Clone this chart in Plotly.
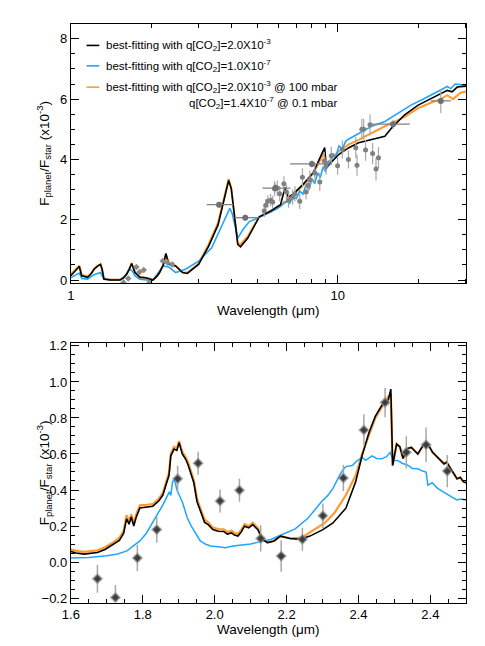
import plotly.graph_objects as go

# ---------------- top panel: models (wavelength in micron, flux x1e-3) ----------------
black_top_wl = [1.00, 1.04, 1.076, 1.098, 1.155, 1.19, 1.222, 1.26, 1.292, 1.31, 1.33, 1.406,
                1.53, 1.58, 1.62, 1.66, 1.69, 1.738, 1.814, 1.92, 2.03, 2.10, 2.15, 2.22, 2.27,
                2.33, 2.40, 2.47, 2.62, 2.73, 3.01, 3.28, 3.56, 3.77, 3.90, 3.99, 4.10, 4.22,
                4.32, 4.60, 5.08, 5.6, 6.1, 6.28, 6.35, 6.53, 6.81, 7.44, 8.1, 8.69, 8.93, 9.04,
                9.3, 10.1, 11.0, 11.96, 13.4, 15.0, 15.9, 17.8, 20.0, 22.3, 24.3, 25.7, 26.8,
                28.0, 30.3]
black_top_fl = [0.14, 0.3, 0.45, 0.14, 0.09, 0.2, 0.36, 0.46, 0.52, 0.35, 0.03, 0.0,
                0.0, 0.08, 0.2, 0.38, 0.55, 0.25, 0.09, 0.07, 0.0, 0.12, 0.25, 0.5, 0.88,
                0.52, 0.5, 0.47, 0.25, 0.22, 0.52, 1.12, 1.83, 2.81, 3.3, 3.03, 2.05, 1.18,
                1.1, 1.39, 2.1, 2.29, 2.5, 2.95, 3.08, 2.75, 2.86, 3.19, 3.57, 4.17, 4.39, 3.7,
                3.84, 4.17, 4.39, 4.55, 4.66, 4.77, 5.04, 5.48, 5.8, 6.02, 6.19, 6.29, 6.24,
                6.4, 6.43]

blue_top_wl = [1.00, 1.04, 1.076, 1.10, 1.155, 1.222, 1.292, 1.33, 1.406, 1.53, 1.62, 1.66,
               1.70, 1.74, 1.814, 1.92, 2.03, 2.15, 2.21, 2.33, 2.47, 2.69, 3.01, 3.37, 3.67,
               3.94, 4.02, 4.22, 4.41, 4.66, 5.0, 5.3, 5.6, 5.9, 6.2, 6.45, 6.6, 6.8, 7.0,
               7.2, 7.4, 7.6, 7.8, 8.0, 8.2, 8.4, 8.6, 8.8, 9.0, 9.2, 9.4, 9.6, 9.8, 10.1,
               10.4, 10.7, 11.0, 11.5, 12.0, 12.5, 13.4, 15.0, 16.8, 18.8, 21.1, 23.6, 25.7,
               26.5, 27.5, 28.8, 30.3]
blue_top_fl = [0.08, 0.15, 0.23, 0.05, 0.03, 0.18, 0.25, 0.03, 0.0, 0.0, 0.2, 0.36,
               0.3, 0.14, 0.03, 0.0, 0.0, 0.3, 0.47, 0.43, 0.25, 0.36, 0.63, 1.07, 1.77,
               2.38, 2.21, 1.39, 1.67, 1.94, 2.05, 2.15, 2.26, 2.36, 2.5, 2.62, 2.55, 2.78, 2.7,
               2.95, 2.85, 3.15, 3.0, 3.35, 3.2, 3.55, 3.4, 3.75, 3.6, 3.95, 3.85, 4.2, 4.05, 4.45,
               4.35, 4.6, 4.68, 4.78, 4.88, 4.95, 5.1, 5.26, 5.53, 5.8, 6.02, 6.24, 6.42,
               6.35, 6.5, 6.48, 6.45]

orange_top_wl = [1.00, 1.04, 1.076, 1.098, 1.155, 1.19, 1.222, 1.26, 1.292, 1.31, 1.33, 1.406,
                 1.53, 1.58, 1.62, 1.66, 1.69, 1.738, 1.814, 1.92, 2.03, 2.10, 2.15, 2.22, 2.27,
                 2.33, 2.40, 2.47, 2.62, 2.73, 3.01, 3.28, 3.56, 3.77, 3.90, 3.99, 4.10, 4.22,
                 4.32, 4.60, 5.08, 5.6, 6.1, 6.3, 6.53, 6.81, 7.44, 8.1, 8.69, 8.93, 9.04, 9.3,
                 10.1, 11.0, 12.0, 13.4, 15.0, 17.8, 20.0, 22.3, 24.3, 25.7, 27.0, 28.8, 30.3]
orange_top_fl = [0.2, 0.35, 0.48, 0.18, 0.12, 0.22, 0.38, 0.48, 0.53, 0.36, 0.05, 0.02,
                 0.02, 0.1, 0.22, 0.4, 0.56, 0.27, 0.11, 0.08, 0.02, 0.13, 0.26, 0.5, 0.85,
                 0.53, 0.5, 0.47, 0.26, 0.24, 0.55, 1.18, 1.9, 2.88, 3.35, 3.05, 2.05, 1.22,
                 1.18, 1.45, 2.1, 2.25, 2.45, 2.6, 2.6, 2.82, 3.15, 3.55, 4.05, 4.25, 3.85, 3.95,
                 4.28, 4.5, 4.66, 4.88, 5.1, 5.41, 5.7, 5.88, 6.0, 6.13, 6.0, 6.21, 6.25]

# ---------------- top panel: observations ----------------
ground_wl = [1.47, 1.52, 1.575, 1.64, 1.76, 1.81, 1.876, 1.97, 2.21, 2.30, 2.40]
ground_fl = [-0.19, -0.30, -0.08, 0.05, 0.43, 0.27, 0.33, -0.08, 0.63, 0.58, 0.52]

phot_wl = [3.59, 4.5, 5.84, 8.0, 16.1, 24.3]
phot_fl = [2.5, 2.07, 3.05, 3.85, 5.17, 5.94]
phot_wl_lo = [3.23, 4.1, 5.22, 6.63, 13.4, 22.3]
phot_wl_hi = [4.05, 5.08, 6.64, 9.5, 18.6, 26.5]
phot_err = [0.1, 0.1, 0.15, 0.12, 0.15, 0.4]

irs_wl = [5.3, 5.37, 5.47, 5.6, 5.7, 5.79, 5.93, 6.06, 6.28, 6.42, 6.54, 6.77, 6.91, 7.2,
          7.37, 7.6, 7.74, 7.86, 8.2, 8.56, 8.9, 9.04, 9.45, 9.98, 10.4, 10.96, 11.67, 11.8,
          12.3, 12.5, 12.7, 13.2, 13.5, 13.9, 14.2]
irs_fl = [2.29, 2.48, 2.61, 2.65, 2.59, 3.03, 3.05, 2.86, 3.19, 2.92, 2.65, 2.75, 2.86, 2.61,
          3.41, 2.92, 3.14, 3.33, 3.55, 3.25, 3.95, 3.79, 4.12, 3.79, 4.33, 4.0, 4.39, 3.81,
          5.0, 5.0, 4.31, 5.15, 4.2, 3.68, 4.06]
irs_err = [0.2, 0.2, 0.2, 0.2, 0.2, 0.25, 0.25, 0.25, 0.25, 0.25, 0.25, 0.25, 0.25, 0.25,
           0.3, 0.25, 0.25, 0.3, 0.3, 0.3, 0.3, 0.3, 0.3, 0.3, 0.3, 0.3, 0.35, 0.35,
           0.35, 0.35, 0.35, 0.35, 0.35, 0.38, 0.35]

# ---------------- bottom panel: models ----------------
black_bot_wl = [1.600, 1.615, 1.637, 1.655, 1.674, 1.695, 1.719, 1.735, 1.747, 1.755, 1.762,
                1.768, 1.775, 1.782, 1.792, 1.810, 1.828, 1.845, 1.856, 1.865, 1.873, 1.878,
                1.887, 1.895, 1.901, 1.910, 1.919, 1.926, 1.933, 1.942, 1.951, 1.958, 1.965,
                1.972, 1.982, 1.995, 2.010, 2.025, 2.035, 2.047, 2.055, 2.065, 2.075, 2.083,
                2.095, 2.106, 2.120, 2.133, 2.147, 2.165, 2.183, 2.210, 2.238, 2.265, 2.301,
                2.329, 2.365, 2.392, 2.410, 2.429, 2.447, 2.465, 2.475, 2.483, 2.490, 2.495,
                2.506, 2.515, 2.524, 2.535, 2.547, 2.565, 2.579, 2.593, 2.606, 2.620, 2.638,
                2.645, 2.656, 2.674, 2.683, 2.692, 2.700]
black_bot_fl = [0.058, 0.05, 0.044, 0.05, 0.053, 0.07, 0.098, 0.12, 0.16, 0.24, 0.21,
                0.25, 0.2, 0.25, 0.30, 0.305, 0.31, 0.34, 0.372, 0.43, 0.48, 0.59,
                0.627, 0.62, 0.663, 0.6, 0.572, 0.54, 0.50, 0.44, 0.335, 0.3, 0.262,
                0.22, 0.208, 0.18, 0.171, 0.17, 0.155, 0.162, 0.15, 0.144, 0.17, 0.199,
                0.19, 0.208, 0.18, 0.126, 0.108, 0.117, 0.144, 0.131, 0.126, 0.144, 0.18,
                0.217, 0.299, 0.445, 0.59, 0.718, 0.81, 0.87, 0.89, 0.90, 0.96, 0.536,
                0.655, 0.64, 0.575, 0.63, 0.636, 0.6, 0.645, 0.655, 0.609, 0.581, 0.545,
                0.555, 0.518, 0.463, 0.47, 0.445, 0.44]

orange_bot_wl = [1.600, 1.615, 1.637, 1.655, 1.674, 1.695, 1.719, 1.735, 1.747, 1.755, 1.762,
                 1.768, 1.775, 1.782, 1.792, 1.810, 1.828, 1.845, 1.856, 1.865, 1.873, 1.878,
                 1.887, 1.895, 1.901, 1.910, 1.919, 1.926, 1.933, 1.942, 1.951, 1.958, 1.965,
                 1.972, 1.982, 1.995, 2.010, 2.025, 2.035, 2.047, 2.055, 2.065, 2.075, 2.083,
                 2.095, 2.106, 2.120, 2.133, 2.147, 2.165, 2.183, 2.210, 2.242, 2.269, 2.306,
                 2.333, 2.365, 2.392, 2.410, 2.447, 2.483, 2.490, 2.495, 2.506, 2.515, 2.524,
                 2.535, 2.547, 2.565, 2.579, 2.593, 2.606, 2.620, 2.638, 2.645, 2.656, 2.674,
                 2.683, 2.692, 2.700]
orange_bot_fl = [0.07, 0.062, 0.056, 0.062, 0.065, 0.082, 0.11, 0.135, 0.175, 0.26, 0.225,
                 0.265, 0.215, 0.265, 0.315, 0.318, 0.322, 0.352, 0.385, 0.445, 0.495, 0.6,
                 0.64, 0.632, 0.672, 0.612, 0.585, 0.555, 0.515, 0.455, 0.35, 0.315, 0.275,
                 0.235, 0.22, 0.192, 0.183, 0.182, 0.167, 0.174, 0.162, 0.156, 0.182, 0.21,
                 0.2, 0.218, 0.19, 0.128, 0.108, 0.117, 0.144, 0.131, 0.135, 0.171, 0.217,
                 0.272, 0.372, 0.48, 0.6, 0.8, 0.92, 0.93, 0.536, 0.655, 0.64, 0.575,
                 0.63, 0.636, 0.6, 0.645, 0.655, 0.609, 0.581, 0.545, 0.555, 0.518, 0.463,
                 0.47, 0.445, 0.44]

blue_bot_wl = [1.60, 1.65, 1.70, 1.73, 1.756, 1.775, 1.792, 1.81, 1.828, 1.845, 1.856, 1.865,
               1.874, 1.878, 1.883, 1.888, 1.895, 1.91, 1.924, 1.935, 1.947, 1.96, 1.974, 1.988,
               2.01, 2.03, 2.051, 2.08, 2.10, 2.124, 2.156, 2.188, 2.224, 2.26, 2.297, 2.315,
               2.329, 2.347, 2.356, 2.365, 2.383, 2.395, 2.41, 2.42, 2.438, 2.45, 2.465, 2.478,
               2.488, 2.497, 2.51, 2.52, 2.538, 2.55, 2.565, 2.578, 2.588, 2.593, 2.605, 2.62,
               2.635, 2.647, 2.66, 2.674, 2.685, 2.70]
blue_bot_fl = [0.022, 0.025, 0.035, 0.045, 0.062, 0.09, 0.117, 0.16, 0.226, 0.28, 0.317, 0.35,
               0.39, 0.37, 0.445, 0.46, 0.4, 0.335, 0.244, 0.2, 0.16, 0.117, 0.1, 0.089,
               0.085, 0.08, 0.089, 0.095, 0.1, 0.112, 0.125, 0.153, 0.184, 0.244, 0.335, 0.37,
               0.409, 0.48, 0.51, 0.53, 0.536, 0.56, 0.581, 0.565, 0.59, 0.575, 0.573, 0.585,
               0.609, 0.565, 0.563, 0.55, 0.536, 0.52, 0.518, 0.505, 0.5, 0.427, 0.44, 0.409,
               0.39, 0.372, 0.36, 0.345, 0.35, 0.345]

# ---------------- bottom panel: observations ----------------
obs_bot_wl = [1.674, 1.724, 1.785, 1.839, 1.897, 1.954, 2.015, 2.069, 2.128, 2.185, 2.244,
              2.301, 2.358, 2.415, 2.474, 2.533, 2.588, 2.647]
obs_bot_fl = [-0.093, -0.197, 0.022, 0.18, 0.462, 0.549, 0.339, 0.399, 0.131, 0.033, 0.126,
              0.257, 0.467, 0.733, 0.886, 0.609, 0.651, 0.505]
obs_bot_err = [0.078, 0.07, 0.073, 0.073, 0.073, 0.064, 0.064, 0.064, 0.073, 0.087, 0.064,
               0.068, 0.073, 0.087, 0.082, 0.09, 0.096, 0.09]

bot_tickvals = [1.6, 1.8, 2.0, 2.2, 2.4, 2.6]
bot_ticktext = ["1.6", "1.8", "2.0", "2.2", "2.4", "2.4"]

legend_labels = [
    "best-fitting with q[CO<sub>2</sub>]=2.0X10<sup>-3</sup>",
    "best-fitting with q[CO<sub>2</sub>]=1.0X10<sup>-7</sup>",
    "best-fitting with q[CO<sub>2</sub>]=2.0X10<sup>-3</sup> @ 100 mbar",
]
legend_extra = "q[CO<sub>2</sub>]=1.4X10<sup>-7</sup> @ 0.1 mbar"

BLACK = "#000000"
BLUE = "#1ea6ff"
ORANGE = "#ff9a2e"
FONT = "Liberation Sans, Arial, Helvetica, sans-serif"
W, H = 485, 646


def px_x(p):
    return p / W


def px_y(p):
    return 1 - p / H


fig = go.Figure()

# top panel lines
fig.add_trace(go.Scatter(x=orange_top_wl, y=orange_top_fl, mode="lines",
                         line=dict(color=ORANGE, width=2), xaxis="x", yaxis="y"))
fig.add_trace(go.Scatter(x=blue_top_wl, y=blue_top_fl, mode="lines",
                         line=dict(color=BLUE, width=1.6), xaxis="x", yaxis="y"))
fig.add_trace(go.Scatter(x=black_top_wl, y=black_top_fl, mode="lines",
                         line=dict(color=BLACK, width=1.6), xaxis="x", yaxis="y"))

# top panel data
fig.add_trace(go.Scatter(x=ground_wl, y=ground_fl, mode="markers",
                         marker=dict(symbol="diamond", size=5, color="#8a8a8a"),
                         xaxis="x", yaxis="y"))
fig.add_trace(go.Scatter(
    x=irs_wl, y=irs_fl, mode="markers",
    marker=dict(symbol="circle", size=5, color="#808080"),
    error_y=dict(type="data", array=irs_err, color="#a8a8a8", thickness=1.2, width=0),
    xaxis="x", yaxis="y"))
fig.add_trace(go.Scatter(
    x=phot_wl, y=phot_fl, mode="markers",
    marker=dict(symbol="circle", size=6, color="#707070"),
    error_x=dict(type="data", symmetric=False,
                 array=[h - x for h, x in zip(phot_wl_hi, phot_wl)],
                 arrayminus=[x - l for l, x in zip(phot_wl_lo, phot_wl)],
                 color="#808080", thickness=1.2, width=0),
    error_y=dict(type="data", array=phot_err, color="#a8a8a8", thickness=1.2, width=0),
    xaxis="x", yaxis="y"))

# bottom panel lines
fig.add_trace(go.Scatter(x=orange_bot_wl, y=orange_bot_fl, mode="lines",
                         line=dict(color=ORANGE, width=2.2), xaxis="x2", yaxis="y2"))
fig.add_trace(go.Scatter(x=blue_bot_wl, y=blue_bot_fl, mode="lines",
                         line=dict(color=BLUE, width=1.5), xaxis="x2", yaxis="y2"))
fig.add_trace(go.Scatter(x=black_bot_wl, y=black_bot_fl, mode="lines",
                         line=dict(color=BLACK, width=1.6), xaxis="x2", yaxis="y2"))

# bottom panel data
fig.add_trace(go.Scatter(
    x=obs_bot_wl, y=obs_bot_fl, mode="markers",
    marker=dict(symbol="diamond", size=7, color="#3c3c3c",
                line=dict(color="rgba(150,150,150,0.55)", width=2)),
    error_y=dict(type="data", array=obs_bot_err, color="#a8a8a8", thickness=1.5, width=0),
    xaxis="x2", yaxis="y2"))


def axis_style(**kw):
    base = dict(showline=True, linecolor="black", linewidth=1, mirror="allticks",
                ticks="inside", ticklen=8, tickwidth=1, tickcolor="black",
                showgrid=False, zeroline=False,
                tickfont=dict(size=13, color="black", family=FONT))
    base.update(kw)
    return base


x_dom = [px_x(63), px_x(466)]

fig.update_layout(
    width=W, height=H,
    margin=dict(l=0, r=0, t=0, b=0),
    paper_bgcolor="white", plot_bgcolor="white",
    showlegend=False,
    font=dict(family=FONT, color="black"),
    xaxis=axis_style(
        type="log", range=[0, 1.4814], domain=x_dom, anchor="y",
        tickmode="array", tickvals=[1, 10], ticktext=["1", "10"],
        minor=dict(tickmode="array", tickvals=[2, 3, 4, 5, 6, 7, 8, 9, 20, 30],
                   ticks="inside", ticklen=4, tickcolor="black", showgrid=False)),
    yaxis=axis_style(
        range=[-0.1, 8.5], domain=[px_y(282), px_y(19)], anchor="x",
        tick0=0, dtick=2,
        minor=dict(dtick=0.5, ticks="inside", ticklen=4, tickcolor="black", showgrid=False)),
    xaxis2=axis_style(
        range=[1.6, 2.7], domain=x_dom, anchor="y2",
        tickmode="array", tickvals=bot_tickvals, ticktext=bot_ticktext,
        minor=dict(tick0=1.6, dtick=0.05, ticks="inside", ticklen=4, tickcolor="black",
                   showgrid=False)),
    yaxis2=axis_style(
        range=[-0.225, 1.215], domain=[px_y(606), px_y(343)], anchor="x2",
        tick0=0, dtick=0.2, tickformat=".1f",
        minor=dict(dtick=0.05, ticks="inside", ticklen=4, tickcolor="black", showgrid=False)),
)

# legend drawn by hand so the line samples stay short
legend_colors = [BLACK, BLUE, ORANGE]
legend_rows = [41, 61.7, 83.3]
for label, color, row in zip(legend_labels, legend_colors, legend_rows):
    fig.add_shape(type="line", xref="paper", yref="paper",
                  x0=px_x(79), x1=px_x(92), y0=px_y(row), y1=px_y(row),
                  line=dict(color=color, width=1.6))
    fig.add_annotation(text=label, xref="paper", yref="paper", x=px_x(97), y=px_y(row),
                       xanchor="left", yanchor="middle", showarrow=False,
                       font=dict(size=11.5, color="black"))
fig.add_annotation(text=legend_extra, xref="paper", yref="paper", x=px_x(181), y=px_y(99.5),
                   xanchor="left", yanchor="middle", showarrow=False,
                   font=dict(size=11.5, color="black"))

# axis titles
ytitle = "F<sub>planet</sub>/F<sub>star</sub> (x10<sup>-3</sup>)"
for yc in (150.5, 474.5):
    fig.add_annotation(text=ytitle, xref="paper", yref="paper", x=px_x(36), y=px_y(yc),
                       xanchor="center", yanchor="middle", textangle=-90, showarrow=False,
                       font=dict(size=13.5, color="black"))
for yc in (310, 633):
    fig.add_annotation(text="Wavelength (\u03bcm)", xref="paper", yref="paper",
                       x=px_x(264.5), y=px_y(yc), xanchor="center", yanchor="middle",
                       showarrow=False, font=dict(size=13.5, color="black"))

# the page's default body margin would push the figure off the 485x646 window
fig.write_html("out.html", config={"displayModeBar": False},
               post_script="document.body.style.margin='0';")
